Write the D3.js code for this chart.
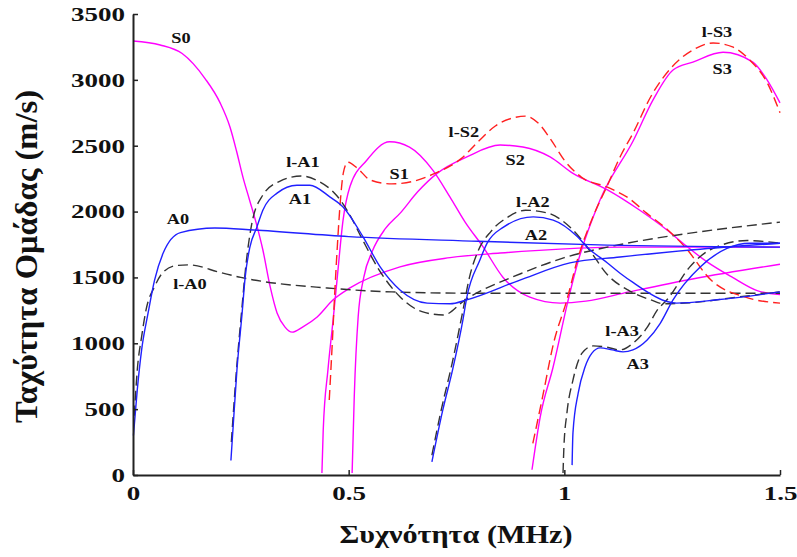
<!DOCTYPE html>
<html>
<head>
<meta charset="utf-8">
<script src="https://cdn.jsdelivr.net/npm/d3@7"></script>
<style>
  body { margin: 0; background: #fff; }
  svg text { font-family: "Liberation Serif", "Times New Roman", Tinos, "DejaVu Serif", serif !important; font-weight: bold; }
</style>
</head>
<body>
<svg id="chart" width="797" height="557"></svg>
<script>
// group velocity curves, [frequency MHz, velocity m/s]
const S0 = [[0,3295],[0.063,3265],[0.114,3200],[0.167,3010],[0.202,2825],[0.225,2640],[0.24,2460],[0.255,2260],[0.27,2090],[0.285,1920],[0.301,1710],[0.318,1430],[0.334,1230],[0.352,1125],[0.369,1085],[0.394,1125],[0.427,1200],[0.464,1330],[0.503,1420],[0.619,1580],[0.735,1650],[0.851,1685],[0.99,1715],[1.13,1730],[1.5,1730]];
const S1 = [[0.438,15],[0.441,340],[0.452,800],[0.464,1180],[0.473,1480],[0.487,1935],[0.503,2190],[0.542,2390],[0.595,2530],[0.641,2490],[0.695,2315],[0.735,2110],[0.77,1920],[0.812,1730],[0.858,1500],[0.92,1350],[0.99,1305],[1.05,1320],[1.15,1390],[1.3,1490],[1.5,1600]];
const S2 = [[0.508,15],[0.513,600],[0.522,1200],[0.535,1500],[0.555,1700],[0.585,1870],[0.62,1990],[0.66,2150],[0.705,2290],[0.774,2415],[0.851,2505],[0.904,2490],[0.967,2415],[1.02,2290],[1.1,2165],[1.175,2010],[1.238,1860],[1.275,1760],[1.33,1620],[1.39,1500],[1.447,1400],[1.5,1370]];
const S3 = [[0.925,40],[0.944,440],[0.974,820],[1.009,1330],[1.03,1600],[1.083,2090],[1.16,2540],[1.206,2850],[1.252,3075],[1.298,3135],[1.368,3210],[1.437,3135],[1.47,3000],[1.5,2825]];
const lS2 = [[0.455,570],[0.462,1000],[0.468,1400],[0.474,1750],[0.48,2050],[0.488,2300],[0.498,2375],[0.52,2330],[0.55,2240],[0.6,2210],[0.65,2230],[0.7,2290],[0.76,2400],[0.8,2530],[0.84,2650],[0.88,2710],[0.91,2725],[0.94,2670],[0.97,2540],[1.0,2390],[1.04,2260],[1.1,2185],[1.15,2100],[1.19,1990],[1.24,1860],[1.28,1730],[1.34,1480],[1.42,1350],[1.5,1305]];
const lS3 = [[0.927,240],[0.95,600],[0.975,1000],[1.006,1330],[1.03,1630],[1.065,1950],[1.1,2200],[1.13,2420],[1.16,2600],[1.2,2870],[1.25,3100],[1.3,3230],[1.345,3280],[1.39,3250],[1.43,3150],[1.47,2980],[1.5,2750]];
const A0 = [[0.001,300],[0.01,650],[0.02,950],[0.035,1230],[0.05,1480],[0.07,1685],[0.11,1840],[0.19,1875],[0.28,1860],[0.5,1810],[0.8,1775],[1.1,1745],[1.5,1730]];
const A1 = [[0.227,110],[0.232,360],[0.241,800],[0.253,1230],[0.26,1500],[0.271,1730],[0.287,1880],[0.301,2010],[0.334,2140],[0.38,2200],[0.41,2200],[0.457,2110],[0.487,2035],[0.533,1810],[0.573,1580],[0.619,1405],[0.682,1305],[0.735,1300],[0.774,1330],[0.897,1480],[1.013,1610],[1.129,1655],[1.3,1710],[1.5,1760]];
const A2 = [[0.693,100],[0.718,490],[0.741,800],[0.765,1180],[0.774,1350],[0.804,1630],[0.821,1760],[0.858,1880],[0.928,1960],[0.974,1935],[1.03,1810],[1.053,1730],[1.1,1610],[1.13,1530],[1.16,1460],[1.24,1315],[1.26,1305],[1.354,1330],[1.5,1390]];
const A3 = [[1.018,75],[1.02,320],[1.032,620],[1.048,820],[1.064,925],[1.083,965],[1.111,950],[1.136,935],[1.159,950],[1.192,1025],[1.222,1150],[1.252,1330],[1.315,1580],[1.377,1720],[1.43,1760],[1.5,1760]];
const lA0 = [[0.003,450],[0.01,800],[0.02,1050],[0.03,1250],[0.05,1430],[0.07,1540],[0.1,1590],[0.13,1595],[0.2,1540],[0.25,1500],[0.3,1470],[0.45,1420],[0.6,1390],[0.8,1380],[1.5,1380]];
const lA1 = [[0.228,250],[0.24,800],[0.252,1250],[0.262,1600],[0.275,1900],[0.3,2120],[0.34,2230],[0.39,2270],[0.43,2230],[0.47,2130],[0.5,1990],[0.53,1800],[0.57,1560],[0.62,1350],[0.67,1240],[0.72,1215],[0.77,1330],[0.9,1530],[1.0,1650],[1.13,1750],[1.3,1840],[1.5,1920]];
const lA2 = [[0.693,150],[0.715,500],[0.74,850],[0.765,1250],[0.78,1500],[0.8,1700],[0.83,1850],[0.87,1960],[0.91,2010],[0.96,1990],[1.02,1860],[1.06,1700],[1.1,1520],[1.15,1400],[1.2,1330],[1.23,1300],[1.3,1310],[1.4,1350],[1.5,1390]];
const lA3 = [[0.997,15],[0.999,210],[1.006,470],[1.02,720],[1.041,925],[1.067,980],[1.099,970],[1.129,950],[1.159,1000],[1.192,1120],[1.215,1250],[1.238,1330],[1.291,1580],[1.338,1710],[1.424,1780],[1.5,1760]];

const xTicks = [0, 0.5, 1, 1.5];
const yTicks = [0, 500, 1000, 1500, 2000, 2500, 3000, 3500];
const curveNames = ["S0","l-A1","A1","A0","l-A0","S1","l-S2","S2","l-A2","A2","l-S3","S3","l-A3","A3"];
const curveLabelPos = [[0.111,3321],[0.394,2376],[0.387,2095],[0.104,1944],[0.132,1450],[0.617,2285],[0.767,2604],[0.886,2391],[0.927,2072],[0.934,1822],[1.354,3363],[1.366,3082],[1.134,1093],[1.17,843]];

const serif = '"Liberation Serif", "Times New Roman", Tinos, "DejaVu Serif", serif';

const svg = d3.select("#chart"),
  margin = {top: 14, right: 17, bottom: 82, left: 133},
  width = +svg.attr("width") - margin.left - margin.right,
  height = +svg.attr("height") - margin.top - margin.bottom,
  x = d3.scaleLinear().domain([0, 1.5]).range([0, width]),
  y = d3.scaleLinear().domain([0, 3500]).range([height, 0]),
  g = svg.append("g").attr("transform", `translate(${margin.left},${margin.top})`);

const line = d3.line().x(d => x(d[0])).y(d => y(d[1])).curve(d3.curveMonotoneX);

const series = [
  {data: S0, color: "#ff00ff", dash: null},
  {data: S1, color: "#ff00ff", dash: null},
  {data: S2, color: "#ff00ff", dash: null},
  {data: S3, color: "#ff00ff", dash: null},
  {data: lA0, color: "#333", dash: "10,5"},
  {data: lA1, color: "#333", dash: "10,5"},
  {data: lA2, color: "#333", dash: "10,5"},
  {data: lA3, color: "#333", dash: "10,5"},
  {data: lS2, color: "#ff2020", dash: "10,5"},
  {data: lS3, color: "#ff2020", dash: "10,5"},
  {data: A0, color: "#2020ff", dash: null},
  {data: A1, color: "#2020ff", dash: null},
  {data: A2, color: "#2020ff", dash: null},
  {data: A3, color: "#2020ff", dash: null}
];

g.selectAll(".curve")
  .data(series)
  .enter().append("path")
  .attr("class", "curve")
  .attr("d", d => line(d.data))
  .attr("fill", "none")
  .attr("stroke", d => d.color)
  .attr("stroke-width", 1.4)
  .attr("stroke-dasharray", d => d.dash);

// axes, ticks point inward
const xAxis = g.append("g")
  .attr("transform", `translate(0,${height})`)
  .call(d3.axisBottom(x).tickValues(xTicks).tickFormat(d => String(d)).tickSizeInner(-5).tickSizeOuter(0).tickPadding(12));
const yAxis = g.append("g")
  .call(d3.axisLeft(y).tickValues(yTicks).tickFormat(d => String(d)).tickSizeInner(-5).tickSizeOuter(0).tickPadding(8));

[xAxis, yAxis].forEach(ax => {
  ax.attr("font-family", serif);
  ax.select(".domain").attr("stroke", "#222").attr("stroke-width", 2);
  ax.selectAll(".tick line").attr("stroke", "#222").attr("stroke-width", 1.5);
  ax.selectAll(".tick text")
    .attr("fill", "#111")
    .style("font-size", "18px")
    .each(function() {
      const t = d3.select(this);
      const px = +t.attr("x") || 0;
      t.attr("x", px / 1.5).attr("transform", "scale(1.5,1)");
    });
});
yAxis.selectAll(".tick text").attr("dy", "0.35em");

// curve labels
g.selectAll(".lbl")
  .data(curveNames)
  .enter().append("g")
  .attr("class", "lbl")
  .attr("transform", (d, i) => `translate(${x(curveLabelPos[i][0])},${y(curveLabelPos[i][1])}) scale(1.22,1)`)
  .append("text")
  .attr("text-anchor", "middle")
  .attr("dy", "0.35em")
  .style("font-size", "15px")
  .attr("fill", "#111")
  .text(d => d);

// axis titles
svg.append("text")
  .attr("x", 456)
  .attr("y", 543)
  .attr("text-anchor", "middle")
  .attr("textLength", 233)
  .attr("lengthAdjust", "spacingAndGlyphs")
  .style("font-size", "25px")
  .attr("fill", "#111")
  .text("Συχνότητα (MHz)");

svg.append("g")
  .attr("transform", "translate(37,256.5) scale(1.3,1) rotate(-90)")
  .append("text")
  .attr("text-anchor", "middle")
  .attr("textLength", 333)
  .attr("lengthAdjust", "spacingAndGlyphs")
  .style("font-size", "25px")
  .attr("fill", "#111")
  .text("Ταχύτητα Ομάδας (m/s)");
</script>
</body>
</html>
